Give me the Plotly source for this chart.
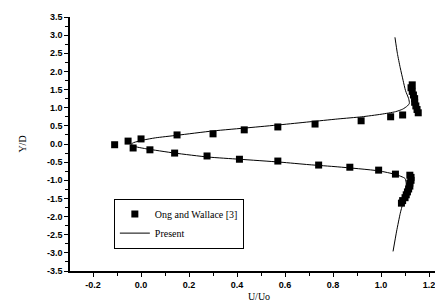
import plotly.graph_objects as go

# Ong and Wallace experimental data (U/Uo, Y/D)
ong_u = [-0.11, -0.054, -0.033, 0.0, 0.037, 0.15, 0.14, 0.30, 0.275, 0.43, 0.41, 0.57, 0.57,
         0.725, 0.74, 0.917, 0.87, 1.04, 0.99, 1.09, 1.06, 1.12,
         1.155, 1.15, 1.145, 1.14, 1.14, 1.135, 1.13, 1.125, 1.13,
         1.125, 1.125, 1.12, 1.12, 1.115, 1.11, 1.105, 1.10, 1.09, 1.085]
ong_y = [-0.02, 0.08, -0.11, 0.14, -0.16, 0.25, -0.25, 0.28, -0.33, 0.39, -0.42, 0.47, -0.47,
         0.55, -0.58, 0.64, -0.64, 0.75, -0.72, 0.80, -0.83, -0.86,
         0.86, 0.95, 1.05, 1.15, 1.25, 1.35, 1.45, 1.55, 1.63,
         -0.92, -1.0, -1.08, -1.16, -1.24, -1.32, -1.40, -1.48, -1.56, -1.63]

# Present computation
pres_u = [1.058, 1.068, 1.08, 1.092, 1.102, 1.115, 1.118, 1.11, 1.09, 1.06, 1.0, 0.92, 0.82,
          0.70, 0.58, 0.45, 0.30, 0.15, 0.06, 0.01, -0.03, -0.04, -0.03, 0.02, 0.14, 0.28,
          0.41, 0.58, 0.70, 0.82, 0.99, 1.06, 1.10, 1.105, 1.10, 1.09, 1.08, 1.065, 1.05]
pres_y = [2.94, 2.5, 2.1, 1.75, 1.47, 1.25, 1.12, 1.05, 0.96, 0.89, 0.82, 0.75, 0.69,
          0.61, 0.53, 0.45, 0.36, 0.24, 0.17, 0.11, 0.04, 0.0, -0.06, -0.13, -0.25, -0.36,
          -0.42, -0.50, -0.57, -0.63, -0.74, -0.84, -0.95, -1.1, -1.35, -1.65, -1.91, -2.4, -2.96]

x_ticks = [-0.2, 0.0, 0.2, 0.4, 0.6, 0.8, 1.0, 1.2]
y_ticks = [3.5, 3.0, 2.5, 2.0, 1.5, 1.0, 0.5, 0.0, -0.5, -1.0, -1.5, -2.0, -2.5, -3.0, -3.5]

fig = go.Figure()
fig.add_trace(go.Scatter(
    x=ong_u, y=ong_y, mode="markers", name="Ong and Wallace [3]",
    marker=dict(symbol="square", size=7, color="black")))
fig.add_trace(go.Scatter(
    x=pres_u, y=pres_y, mode="lines", name="Present",
    line=dict(color="black", width=1, shape="spline", smoothing=0.6)))

tickfont = dict(family="Liberation Sans", size=9, color="black", weight="bold")
fig.update_layout(
    width=443, height=304,
    margin=dict(l=62, r=3, t=9, b=41),
    paper_bgcolor="white", plot_bgcolor="white",
    font=dict(family="Liberation Serif", color="black"),
    showlegend=True,
    legend=dict(x=0.116, y=0.285, xanchor="left", yanchor="top",
                bordercolor="black", borderwidth=1, bgcolor="white",
                font=dict(family="Liberation Serif", size=10, color="black"),
                tracegroupgap=0, itemwidth=30),
)
fig.update_xaxes(
    range=[-0.296, 1.279], tickvals=x_ticks, ticktext=[f"{v:.1f}" for v in x_ticks],
    showline=True, linecolor="black", linewidth=1.5, mirror=False,
    ticks="outside", ticklen=4, tickwidth=1.2, tickcolor="black",
    minor=dict(dtick=0.1, tick0=0, ticks="outside", ticklen=3, tickcolor="black", tickwidth=1),
    showgrid=False, zeroline=False, tickfont=tickfont,
    title=dict(text="U/Uo", font=dict(family="Liberation Serif", size=10, color="black"), standoff=4),
)
fig.update_yaxes(
    range=[-3.5, 3.5], tickvals=y_ticks, ticktext=[f"{v:.1f}" for v in y_ticks],
    showline=True, linecolor="black", linewidth=1.5, mirror=False,
    ticks="outside", ticklen=4, tickwidth=1.2, tickcolor="black",
    minor=dict(dtick=0.25, tick0=0, ticks="outside", ticklen=3, tickcolor="black", tickwidth=1),
    showgrid=False, zeroline=False, tickfont=tickfont,
    title=dict(text="Y/D", font=dict(family="Liberation Serif", size=10, color="black"), standoff=18),
)
fig.write_html("out.html")
